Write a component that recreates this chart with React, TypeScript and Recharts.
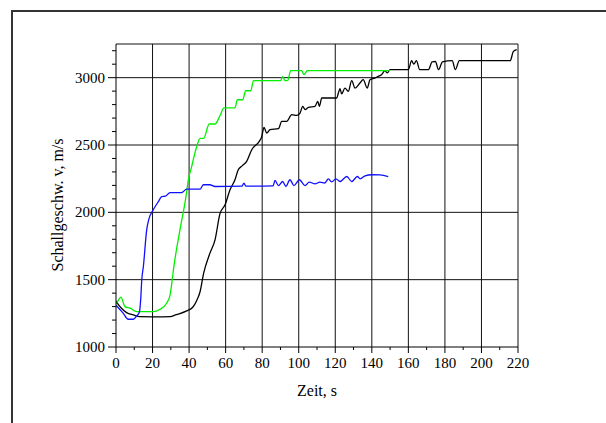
import React from 'react';
import { CartesianGrid, Label, Line, LineChart, XAxis, YAxis } from 'recharts';

// time [s] / sound velocity [m/s]
const blackSeries = [
  { t: 0, v: 1340 }, { t: 1, v: 1320 }, { t: 3, v: 1288 }, { t: 5.8, v: 1255 },
  { t: 9.5, v: 1238 }, { t: 13, v: 1225 }, { t: 20, v: 1224 }, { t: 29.6, v: 1225 },
  { t: 33, v: 1240 }, { t: 38.7, v: 1268 }, { t: 42, v: 1295 }, { t: 44, v: 1340 },
  { t: 46, v: 1410 }, { t: 48, v: 1550 }, { t: 51.4, v: 1697 },
  { t: 54.2, v: 1796 }, { t: 56.9, v: 1990 }, { t: 59.7, v: 2056 }, { t: 62.4, v: 2167 },
  { t: 65.1, v: 2242 }, { t: 66.9, v: 2316 }, { t: 69, v: 2345 }, { t: 71.5, v: 2378 },
  { t: 74.3, v: 2465 }, { t: 78.4, v: 2527 }, { t: 79.7, v: 2560 }, { t: 81, v: 2630 },
  { t: 82.5, v: 2589 }, { t: 84.3, v: 2614 }, { t: 88.9, v: 2621 }, { t: 90.7, v: 2675 },
  { t: 93.4, v: 2675 }, { t: 96.2, v: 2725 }, { t: 98.9, v: 2720 }, { t: 100.7, v: 2737 },
  { t: 102.2, v: 2787 }, { t: 103.5, v: 2762 }, { t: 105.3, v: 2779 }, { t: 108.9, v: 2787 },
  { t: 110.4, v: 2824 }, { t: 111.3, v: 2787 }, { t: 112.6, v: 2849 }, { t: 120.8, v: 2849 },
  { t: 121.7, v: 2886 }, { t: 122.6, v: 2918 }, { t: 123.5, v: 2880 }, { t: 125.3, v: 2923 },
  { t: 127.1, v: 2898 }, { t: 129, v: 2978 }, { t: 130.8, v: 2923 }, { t: 133.5, v: 2960 },
  { t: 135.3, v: 2985 }, { t: 137.5, v: 2923 }, { t: 139, v: 2985 }, { t: 141.6, v: 2997 },
  { t: 143.5, v: 3010 }, { t: 145.3, v: 3022 }, { t: 147.2, v: 3052 }, { t: 148.5, v: 3035 },
  { t: 150, v: 3060 }, { t: 160, v: 3060 }, { t: 161.8, v: 3126 }, { t: 163, v: 3100 },
  { t: 164.4, v: 3126 }, { t: 166.2, v: 3060 }, { t: 171, v: 3060 }, { t: 173, v: 3118 },
  { t: 174.8, v: 3120 }, { t: 176.5, v: 3060 }, { t: 178.7, v: 3118 }, { t: 184, v: 3126 },
  { t: 185.7, v: 3060 }, { t: 187.9, v: 3126 }, { t: 215.7, v: 3126 }, { t: 217.5, v: 3195 },
  { t: 219.3, v: 3208 },
];

const greenSeries = [
  { t: 0, v: 1320 }, { t: 1, v: 1340 }, { t: 2.7, v: 1370 }, { t: 4.9, v: 1300 },
  { t: 7.7, v: 1288 }, { t: 11.3, v: 1262 }, { t: 20.4, v: 1262 }, { t: 24.1, v: 1280 },
  { t: 27.7, v: 1325 }, { t: 29.5, v: 1380 }, { t: 30.5, v: 1470 }, { t: 31.5, v: 1580 },
  { t: 35, v: 1870 }, { t: 38.3, v: 2117 }, { t: 39.6, v: 2242 }, { t: 41.4, v: 2340 },
  { t: 44.2, v: 2489 }, { t: 46, v: 2549 }, { t: 48, v: 2549 }, { t: 51, v: 2656 },
  { t: 54.2, v: 2656 }, { t: 56.9, v: 2717 }, { t: 59.1, v: 2775 }, { t: 65.1, v: 2775 },
  { t: 66.4, v: 2836 }, { t: 69.3, v: 2836 }, { t: 71, v: 2903 }, { t: 73.8, v: 2903 },
  { t: 75.2, v: 2978 }, { t: 90.1, v: 2978 }, { t: 91.2, v: 3010 }, { t: 92.5, v: 2978 },
  { t: 94, v: 2980 }, { t: 95.6, v: 3052 }, { t: 101.6, v: 3052 }, { t: 102.9, v: 3022 },
  { t: 104.7, v: 3052 }, { t: 150, v: 3052 },
];

const blueSeries = [
  { t: 0, v: 1310 }, { t: 2, v: 1280 }, { t: 4, v: 1250 }, { t: 6.7, v: 1206 },
  { t: 9.5, v: 1206 }, { t: 11.3, v: 1230 }, { t: 12.8, v: 1260 }, { t: 13.5, v: 1350 },
  { t: 14.1, v: 1498 }, { t: 15, v: 1600 }, { t: 16.8, v: 1870 }, { t: 18, v: 1950 },
  { t: 20.4, v: 2019 }, { t: 23.2, v: 2080 }, { t: 25, v: 2117 }, { t: 27, v: 2120 },
  { t: 29.6, v: 2147 }, { t: 35.9, v: 2147 }, { t: 38.7, v: 2172 }, { t: 46, v: 2172 },
  { t: 47.8, v: 2205 }, { t: 51.4, v: 2205 }, { t: 54.2, v: 2192 }, { t: 69, v: 2195 },
  { t: 70, v: 2217 }, { t: 71, v: 2195 }, { t: 86, v: 2197 }, { t: 87, v: 2237 },
  { t: 88.9, v: 2199 }, { t: 91.2, v: 2229 }, { t: 93, v: 2192 }, { t: 95.2, v: 2242 },
  { t: 97.4, v: 2199 }, { t: 100.4, v: 2242 }, { t: 103.4, v: 2199 }, { t: 105.8, v: 2224 },
  { t: 108.9, v: 2212 }, { t: 111.6, v: 2224 }, { t: 114.3, v: 2218 }, { t: 116.2, v: 2249 },
  { t: 118, v: 2226 }, { t: 120.4, v: 2249 }, { t: 122.6, v: 2229 }, { t: 126.3, v: 2266 },
  { t: 129, v: 2229 }, { t: 132.1, v: 2266 }, { t: 133.6, v: 2249 }, { t: 136.3, v: 2271 },
  { t: 140, v: 2279 }, { t: 144.5, v: 2278 }, { t: 149, v: 2266 },
];

const xTicks = Array.from({ length: 23 }, (_, i) => i * 10);
const yTicks = Array.from({ length: 23 }, (_, i) => 1000 + i * 100);
const xGrid = [20, 40, 60, 80, 100, 120, 140, 160, 180, 200, 220];
const yGrid = [1500, 2000, 2500, 3000, 3250];

const textStyle = { fontFamily: "'Liberation Serif', 'Times New Roman', serif" };

const XTick = ({ x, y, payload }: any) => {
  const major = payload.value % 20 === 0;
  return (
    <g>
      <line x1={x} x2={x} y1={y} y2={y + (major ? 6 : 3)} stroke="#000" />
      {major && (
        <text x={x} y={y + 20.5} textAnchor="middle" fontSize={15} style={textStyle} fill="#000">
          {payload.value}
        </text>
      )}
    </g>
  );
};

const YTick = ({ x, y, payload }: any) => {
  const major = payload.value % 500 === 0;
  return (
    <g>
      <line x1={x} x2={x - (major ? 8 : 4)} y1={y} y2={y} stroke="#000" />
      {major && (
        <text x={x - 11} y={y + 5} textAnchor="end" fontSize={15} style={textStyle} fill="#000">
          {payload.value}
        </text>
      )}
    </g>
  );
};

export default function App() {
  return (
    <div
      style={{
        position: 'fixed',
        left: 0,
        top: 0,
        width: 606,
        height: 423,
        overflow: 'hidden',
        background: '#fff',
        ...textStyle,
      }}
    >
      <div
        style={{
          position: 'absolute',
          left: 11,
          top: 10,
          width: 700,
          height: 500,
          border: '2px solid #333',
        }}
      />
      <div style={{ position: 'absolute', left: 0, top: 0 }}>
        <LineChart width={606} height={423} margin={{ top: 44, right: 88, left: 0, bottom: 46 }}>
          <CartesianGrid
            horizontalValues={yGrid}
            verticalValues={xGrid}
            stroke="#111"
            strokeWidth={1}
          />
          <XAxis
            type="number"
            dataKey="t"
            domain={[0, 220]}
            ticks={xTicks}
            interval={0}
            height={30}
            tickSize={0}
            tickMargin={0}
            tickLine={false}
            axisLine={{ stroke: '#000' }}
            tick={<XTick />}
            allowDataOverflow
          >
            <Label
              content={() => (
                <text x={317} y={396} textAnchor="middle" fontSize={16} style={textStyle} fill="#000">
                  Zeit, s
                </text>
              )}
            />
          </XAxis>
          <YAxis
            type="number"
            dataKey="v"
            domain={[1000, 3250]}
            ticks={yTicks}
            interval={0}
            width={116}
            tickSize={0}
            tickMargin={0}
            tickLine={false}
            axisLine={{ stroke: '#000' }}
            tick={<YTick />}
            allowDataOverflow
          >
            <Label
              content={() => (
                <text
                  transform="translate(63,205) rotate(-90)"
                  textAnchor="middle"
                  fontSize={16}
                  style={textStyle}
                  fill="#000"
                >
                  Schallgeschw. v, m/s
                </text>
              )}
            />
          </YAxis>
          <Line
            data={blackSeries}
            dataKey="v"
            type="monotone"
            stroke="#000"
            strokeWidth={1.3}
            dot={false}
            isAnimationActive={false}
          />
          <Line
            data={greenSeries}
            dataKey="v"
            type="monotone"
            stroke="#00f000"
            strokeWidth={1.3}
            dot={false}
            isAnimationActive={false}
          />
          <Line
            data={blueSeries}
            dataKey="v"
            type="monotone"
            stroke="#1010ff"
            strokeWidth={1.3}
            dot={false}
            isAnimationActive={false}
          />
        </LineChart>
      </div>
    </div>
  );
}
